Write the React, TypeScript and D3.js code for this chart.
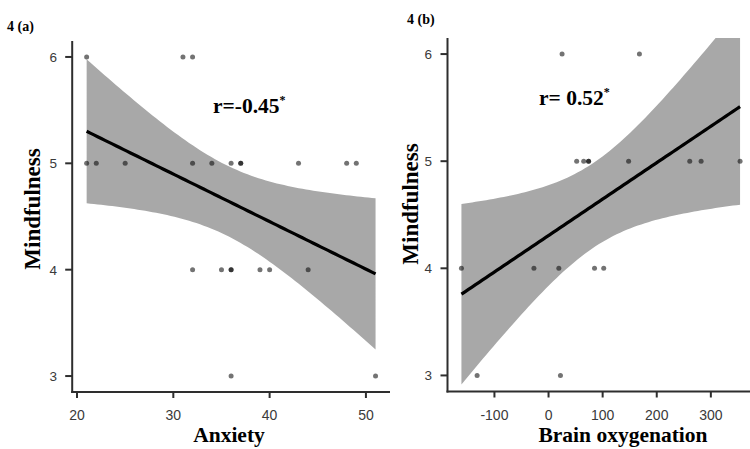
import React from "react";
import * as d3 from "d3";

// Panel (a): Anxiety vs Mindfulness
const anxietyX = [21, 31, 32, 21, 22, 25, 32, 34, 36, 37, 37, 43, 48, 49, 32, 35, 36, 36, 39, 40, 44, 36, 51];
const anxietyY = [6, 6, 6, 5, 5, 5, 5, 5, 5, 5, 5, 5, 5, 5, 4, 4, 4, 4, 4, 4, 4, 3, 3];
const anxietyTicks = [20, 30, 40, 50];

// Panel (b): Brain oxygenation vs Mindfulness
const oxyX = [25, 168, 52, 65, 74, 74, 148, 261, 282, 354, -161, -27, 19, 85, 102, -132, 22];
const oxyY = [6, 6, 5, 5, 5, 5, 5, 5, 5, 5, 4, 4, 4, 4, 4, 3, 3];
const oxyTicks = [-100, 0, 100, 200, 300];

const mindTicks = [3, 4, 5, 6];

function tCrit(df: number) {
  const z = 1.959964;
  return (
    z +
    (z ** 3 + z) / (4 * df) +
    (5 * z ** 5 + 16 * z ** 3 + 3 * z) / (96 * df * df) +
    (3 * z ** 7 + 19 * z ** 5 + 17 * z ** 3 - 15 * z) / (384 * df ** 3)
  );
}

function fitLm(xs: number[], ys: number[]) {
  const n = xs.length;
  const mx = d3.mean(xs)!;
  const my = d3.mean(ys)!;
  let sxx = 0, sxy = 0;
  xs.forEach((x, i) => {
    sxx += (x - mx) ** 2;
    sxy += (x - mx) * (ys[i] - my);
  });
  const b = sxy / sxx;
  const a = my - b * mx;
  let rss = 0;
  xs.forEach((x, i) => (rss += (ys[i] - (a + b * x)) ** 2));
  const s = Math.sqrt(rss / (n - 2));
  const t = tCrit(n - 2);
  const [x0, x1] = d3.extent(xs) as [number, number];
  const grid = d3.range(80).map((i) => x0 + ((x1 - x0) * i) / 79);
  return grid.map((x) => {
    const fit = a + b * x;
    const se = s * Math.sqrt(1 / n + (x - mx) ** 2 / sxx);
    return { x, fit, lo: fit - t * se, hi: fit + t * se };
  });
}

type PanelProps = {
  id: string;
  xs: number[];
  ys: number[];
  xDomain: [number, number];
  xRange: [number, number];
  yRange: [number, number];
  xTicks: number[];
  xLabel: string;
  xLabelX: number;
  xLabelY: number;
  xLabelSize: number;
  yLabelX: number;
  yLabelY: number;
  yTickEnd: number;
  clipRight: number;
  tag: string;
  tagX: number;
  tagY: number;
  rText: string;
  rX: number;
  rY: number;
};

function Panel(p: PanelProps) {
  const x = d3.scaleLinear().domain(p.xDomain).range(p.xRange);
  const y = d3.scaleLinear().domain([2.85, 6.15]).range(p.yRange);
  const band = fitLm(p.xs, p.ys);
  const area = d3
    .area<any>()
    .x((d) => x(d.x))
    .y0((d) => y(d.lo))
    .y1((d) => y(d.hi));
  const line = d3
    .line<any>()
    .x((d) => x(d.x))
    .y((d) => y(d.fit));
  const left = p.xRange[0];
  const bottom = p.yRange[0];
  const top = p.yRange[1];
  const axisColor = "#2e2e2e";
  return (
    <g>
      <defs>
        <clipPath id={p.id}>
          <rect x={left} y={top} width={p.clipRight - left} height={bottom - top} />
        </clipPath>
      </defs>
      <g clipPath={`url(#${p.id})`}>
        <path d={area(band)!} fill="#a8a8a8" />
        <path d={line(band)!} fill="none" stroke="#000" strokeWidth={3.2} />
        {p.xs.map((xv, i) => (
          <circle key={i} cx={x(xv)} cy={y(p.ys[i])} r={2.5} fill="#000" fillOpacity={0.55} />
        ))}
      </g>
      {/* axes */}
      <line x1={left} x2={left} y1={top} y2={bottom + 1} stroke={axisColor} strokeWidth={2} />
      <line x1={left - 1} x2={p.clipRight} y1={bottom} y2={bottom} stroke={axisColor} strokeWidth={2} />
      {mindTicks.map((t) => (
        <g key={t}>
          <line x1={left - 7} x2={left} y1={y(t)} y2={y(t)} stroke={axisColor} strokeWidth={2} />
          <text
            x={p.yTickEnd}
            y={y(t)}
            dy="0.36em"
            textAnchor="end"
            fontFamily="Liberation Sans, Arial, sans-serif"
            fontSize={13.5}
            fill="#3a3a3a"
          >
            {t}
          </text>
        </g>
      ))}
      {p.xTicks.map((t) => (
        <g key={t}>
          <line x1={x(t)} x2={x(t)} y1={bottom} y2={bottom + 6} stroke={axisColor} strokeWidth={2} />
          <text
            x={x(t)}
            y={419.5}
            textAnchor="middle"
            fontFamily="Liberation Sans, Arial, sans-serif"
            fontSize={14}
            fill="#3a3a3a"
          >
            {t}
          </text>
        </g>
      ))}
      <text
        x={p.xLabelX}
        y={p.xLabelY}
        textAnchor="middle"
        fontFamily="Liberation Serif, Times New Roman, serif"
        fontWeight="bold"
        fontSize={p.xLabelSize}
        fill="#000"
      >
        {p.xLabel}
      </text>
      <text
        transform={`translate(${p.yLabelX},${p.yLabelY}) rotate(-90)`}
        textAnchor="middle"
        fontFamily="Liberation Serif, Times New Roman, serif"
        fontWeight="bold"
        fontSize={23}
        fill="#000"
      >
        Mindfulness
      </text>
      <text
        x={p.tagX}
        y={p.tagY}
        fontFamily="Liberation Serif, Times New Roman, serif"
        fontWeight="bold"
        fontSize={14}
        fill="#000"
      >
        {p.tag}
      </text>
      <text
        x={p.rX}
        y={p.rY}
        fontFamily="Liberation Serif, Times New Roman, serif"
        fontWeight="bold"
        fontSize={21.5}
        fill="#000"
      >
        {p.rText}
        <tspan fontSize={12} dy={-9}>*</tspan>
      </text>
    </g>
  );
}

export default function App() {
  return (
    <svg
      width={750}
      height={449}
      style={{ position: "absolute", left: 0, top: 0, background: "#fff" }}
    >
      <rect width={750} height={449} fill="#fff" />
      <Panel
        id="clipA"
        xs={anxietyX}
        ys={anxietyY}
        xDomain={[19.5, 52.5]}
        xRange={[72.2, 390]}
        yRange={[392, 41]}
        xTicks={anxietyTicks}
        xLabel="Anxiety"
        xLabelX={229}
        xLabelY={442}
        xLabelSize={21.5}
        yLabelX={40}
        yLabelY={209}
        yTickEnd={57}
        clipRight={390}
        tag="4 (a)"
        tagX={7}
        tagY={31}
        rText="r=-0.45"
        rX={213}
        rY={113}
      />
      <Panel
        id="clipB"
        xs={oxyX}
        ys={oxyY}
        xDomain={[-186.75, 379.75]}
        xRange={[447.5, 754]}
        yRange={[391.5, 38]}
        xTicks={oxyTicks}
        xLabel="Brain oxygenation"
        xLabelX={623}
        xLabelY={442}
        xLabelSize={21.5}
        yLabelX={418}
        yLabelY={204}
        yTickEnd={432}
        clipRight={750}
        tag="4 (b)"
        tagX={407}
        tagY={24}
        rText="r= 0.52"
        rX={539}
        rY={105}
      />
    </svg>
  );
}
